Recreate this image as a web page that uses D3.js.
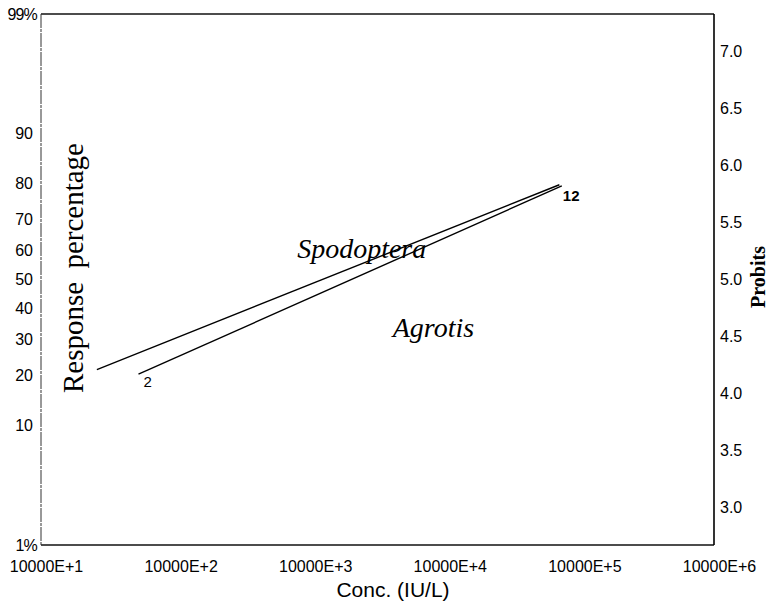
<!DOCTYPE html>
<html lang="en">
<head>
    <meta charset="utf-8">
    <title>Probit lines</title>
    <script src="https://d3js.org/d3.v7.min.js"></script>
    <style>
        body { margin: 0; background: #fff; }
        .tick text { font-family: "Liberation Sans", Arial, sans-serif; font-size: 16px; fill: #000; }
    </style>
</head>
<body>
<script>
    // x axis: decades of concentration
    var xTicks = [1e1, 1e2, 1e3, 1e4, 1e5, 1e6];
    var xTickLabels = ["10000E+1", "10000E+2", "10000E+3", "10000E+4", "10000E+5", "10000E+6"];

    // left axis: response percentage, right axis: probits
    var pctTicks = [1, 10, 20, 30, 40, 50, 60, 70, 80, 90, 99];
    var pctLabels = ["1%", "10", "20", "30", "40", "50", "60", "70", "80", "90", "99%"];
    var probitTicks = [3.0, 3.5, 4.0, 4.5, 5.0, 5.5, 6.0, 6.5, 7.0];

    // regression lines (conc IU/L, probit)
    var spodopteraConc = [26, 71000];
    var spodopteraProbit = [4.21, 5.83];
    var agrotisConc = [53, 74000];
    var agrotisProbit = [4.17, 5.82];
    var agrotisEndLabels = ["2", "12"];

    // where the species names sit (conc, probit)
    var speciesNames = ["Spodoptera", "Agrotis"];
    var speciesConc = [800, 4100];
    var speciesProbit = [5.19, 4.50];

    var W = 768, H = 610;
    var mLeft = 41, mRight = 714, mTop = 14, mBottom = 545;

    // inverse normal cdf (Acklam)
    function invNorm(p) {
        var a = [-39.69683028665376, 220.9460984245205, -275.9285104469687, 138.3577518672690, -30.66479806614716, 2.506628277459239];
        var b = [-54.47609879822406, 161.5858368580409, -155.6989798598866, 66.80131188771972, -13.28068155288572];
        var c = [-0.007784894002430293, -0.3223964580411365, -2.400758277161838, -2.549732539343734, 4.374664141464968, 2.938163982698783];
        var d = [0.007784695709041462, 0.3224671290700398, 2.445134137142996, 3.754408661907416];
        var q, r;
        if (p < 0.02425) {
            q = Math.sqrt(-2 * Math.log(p));
            return (((((c[0]*q+c[1])*q+c[2])*q+c[3])*q+c[4])*q+c[5]) / ((((d[0]*q+d[1])*q+d[2])*q+d[3])*q+1);
        } else if (p > 1 - 0.02425) {
            q = Math.sqrt(-2 * Math.log(1 - p));
            return -(((((c[0]*q+c[1])*q+c[2])*q+c[3])*q+c[4])*q+c[5]) / ((((d[0]*q+d[1])*q+d[2])*q+d[3])*q+1);
        }
        q = p - 0.5; r = q * q;
        return (((((a[0]*r+a[1])*r+a[2])*r+a[3])*r+a[4])*r+a[5])*q / (((((b[0]*r+b[1])*r+b[2])*r+b[3])*r+b[4])*r+1);
    }
    function pctToProbit(p) { return 5 + invNorm(p / 100); }

    var svg = d3.select('body').append('svg')
        .attr('width', W)
        .attr('height', H);

    var x = d3.scaleLog().domain([1e1, 1e6]).range([mLeft, mRight]);
    var y = d3.scaleLinear().domain([pctToProbit(1), pctToProbit(99)]).range([mBottom, mTop]);

    // left axis (percent)
    var yLeft = svg.append('g')
        .attr('transform', 'translate(' + mLeft + ',0)')
        .call(d3.axisLeft(y)
            .tickValues(pctTicks.map(pctToProbit))
            .tickFormat(function (d, i) { return pctLabels[i]; })
            .tickSize(0).tickPadding(8));
    yLeft.select('.domain').remove();
    yLeft.selectAll('.tick text')
        .attr('dx', function (d, i) { return (i === 0 || i === pctTicks.length - 1) ? 4 : 0; })
        .attr('letter-spacing', function (d, i) { return (i === 0 || i === pctTicks.length - 1) ? -0.8 : 0; });

    // right axis (probits)
    var yRight = svg.append('g')
        .attr('transform', 'translate(' + mRight + ',0)')
        .call(d3.axisRight(y)
            .tickValues(probitTicks)
            .tickFormat(d3.format('.1f'))
            .tickSize(0).tickPadding(6));
    yRight.select('.domain').remove();

    // bottom axis
    var xAxis = svg.append('g')
        .attr('transform', 'translate(0,' + mBottom + ')')
        .call(d3.axisBottom(x)
            .tickValues(xTicks)
            .tickFormat(function (d, i) { return xTickLabels[i]; })
            .tickSize(0).tickPadding(16));
    xAxis.select('.domain').remove();
    xAxis.selectAll('.tick text').attr('dx', 5).style('font-size', '16px');

    // frame
    svg.append('line').attr('x1', mLeft).attr('x2', mRight).attr('y1', mTop).attr('y2', mTop)
        .attr('stroke', '#111').attr('stroke-width', 1.6);
    svg.append('line').attr('x1', mLeft).attr('x2', mRight).attr('y1', mBottom).attr('y2', mBottom)
        .attr('stroke', '#111').attr('stroke-width', 1.6);
    svg.append('line').attr('x1', mRight).attr('x2', mRight).attr('y1', mTop).attr('y2', mBottom)
        .attr('stroke', '#000').attr('stroke-width', 1.6);
    svg.append('line').attr('x1', mLeft).attr('x2', mLeft).attr('y1', mTop).attr('y2', mBottom)
        .attr('stroke', '#333').attr('stroke-width', 1)
        .attr('stroke-dasharray', '14,1,3,1');

    // lines
    var line = d3.line()
        .x(function (d) { return x(d[0]); })
        .y(function (d) { return y(d[1]); });

    svg.append('path')
        .datum(d3.zip(spodopteraConc, spodopteraProbit))
        .attr('d', line)
        .attr('fill', 'none').attr('stroke', '#000').attr('stroke-width', 1.4);

    svg.append('path')
        .datum(d3.zip(agrotisConc, agrotisProbit))
        .attr('d', line)
        .attr('fill', 'none').attr('stroke', '#000').attr('stroke-width', 1.4);

    svg.selectAll('.endlabel')
        .data(d3.zip(agrotisConc, agrotisProbit, agrotisEndLabels))
        .enter().append('text')
        .attr('class', 'endlabel')
        .attr('x', function (d) { return x(d[0]); })
        .attr('y', function (d) { return y(d[1]); })
        .attr('dx', function (d, i) { return i === 0 ? 5 : 1; })
        .attr('dy', function (d, i) { return i === 0 ? 13 : 15; })
        .attr('font-family', '"Liberation Sans", Arial, sans-serif')
        .attr('font-size', 15)
        .attr('font-weight', function (d, i) { return i === 0 ? 'normal' : 'bold'; })
        .text(function (d) { return d[2]; });

    svg.selectAll('.species')
        .data(d3.zip(speciesConc, speciesProbit, speciesNames))
        .enter().append('text')
        .attr('class', 'species')
        .attr('x', function (d) { return x(d[0]); })
        .attr('y', function (d) { return y(d[1]); })
        .attr('font-family', '"Liberation Serif", "Times New Roman", serif')
        .attr('font-style', 'italic')
        .attr('font-size', 28)
        .text(function (d) { return d[2]; });

    // axis titles
    svg.append('text')
        .attr('transform', 'translate(83,268) rotate(-90)')
        .attr('text-anchor', 'middle')
        .attr('font-family', '"Liberation Serif", "Times New Roman", serif')
        .attr('font-size', 29)
        .attr('word-spacing', 6)
        .text('Response percentage');

    svg.append('text')
        .attr('transform', 'translate(765,277) rotate(-90)')
        .attr('text-anchor', 'middle')
        .attr('font-family', '"Liberation Serif", "Times New Roman", serif')
        .attr('font-weight', 'bold')
        .attr('font-size', 20)
        .text('Probits');

    svg.append('text')
        .attr('x', 393).attr('y', 597)
        .attr('text-anchor', 'middle')
        .attr('font-family', '"Liberation Sans", Arial, sans-serif')
        .attr('font-size', 21)
        .text('Conc. (IU/L)');
</script>
</body>
</html>
